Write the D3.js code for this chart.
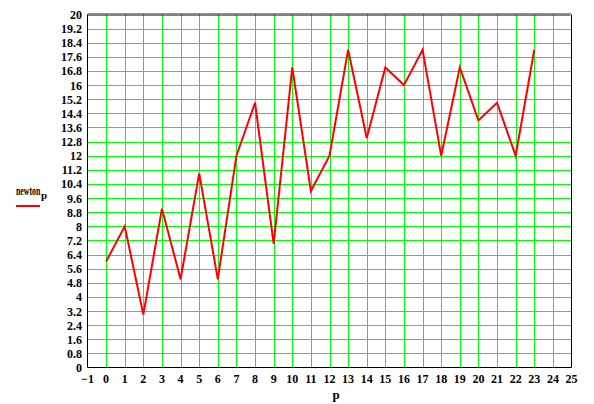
<!DOCTYPE html>
<html><head><meta charset="utf-8">
<script src="https://cdn.jsdelivr.net/npm/d3@7"></script>
<style>
html,body{margin:0;padding:0;background:#fff;}
svg{display:block;}
text{font-family:"Liberation Serif","Times New Roman",serif;font-weight:bold;fill:#000;}
</style></head>
<body>
<script>
const pValues = [0,1,2,3,4,5,6,7,8,9,10,11,12,13,14,15,16,17,18,19,20,21,22,23];
const newton = [6,8,3,9,5,11,5,12,15,7,17,10,12,18,13,17,16,18,12,17,14,15,12,18];
const xTicks = [-1,0,1,2,3,4,5,6,7,8,9,10,11,12,13,14,15,16,17,18,19,20,21,22,23,24,25];
const yTicks = [0,0.8,1.6,2.4,3.2,4,4.8,5.6,6.4,7.2,8,8.8,9.6,10.4,11.2,12,12.8,13.6,14.4,15.2,16,16.8,17.6,18.4,19.2,20];
const seriesName = "newton";
const seriesSub = "p";
const xLabel = "p";

const W = 594, H = 404;
const L = 87.5, R = 571.5, T = 14.5, B = 367.5;
const svg = d3.select("body").append("svg").attr("width", W).attr("height", H);

const x = d3.scaleLinear().domain([-1, 25]).range([L, R]);
const y = d3.scaleLinear().domain([0, 20]).range([B, T]);

// grid
const g = svg.append("g");
g.selectAll("line.v").data(xTicks.slice(1, -1)).join("line")
  .attr("x1", d => Math.round(x(d)) + 0.5).attr("x2", d => Math.round(x(d)) + 0.5)
  .attr("y1", T).attr("y2", B)
  .attr("stroke", "#00ff00").attr("stroke-width", 1);
g.selectAll("line.h").data(yTicks.slice(1)).join("line")
  .attr("x1", L).attr("x2", R)
  .attr("y1", d => d === 20 ? T - 1 : Math.round(y(d)) + 0.5)
  .attr("y2", d => d === 20 ? T - 1 : Math.round(y(d)) + 0.5)
  .attr("stroke", "#00ff00").attr("stroke-width", 1);

// frame
svg.append("path")
  .attr("d", `M${L},${T}V${B}H${R}V${T}`)
  .attr("fill", "none").attr("stroke", "#000").attr("stroke-width", 1);
svg.append("line").attr("x1", L).attr("x2", R - 1).attr("y1", T + 0.5).attr("y2", T + 0.5)
  .attr("stroke", "#000").attr("stroke-width", 1);

// y tick labels
svg.selectAll("text.yt").data(yTicks).join("text")
  .attr("x", 82).attr("y", d => y(d) + 4.5)
  .attr("text-anchor", "end").attr("font-size", 12)
  .text(d => String(d));

// x tick labels
svg.selectAll("text.xt").data(xTicks).join("text")
  .attr("x", d => x(d)).attr("y", 382.5)
  .attr("text-anchor", "middle").attr("font-size", 12)
  .text(d => d < 0 ? "\u2212" + (-d) : String(d));

// x label
svg.append("text").attr("x", 336).attr("y", 399)
  .attr("text-anchor", "middle").attr("font-size", 13).text(xLabel);

// legend
svg.append("text").attr("transform", "translate(16,195) scale(0.65,1)")
  .attr("font-size", 12).text(seriesName);
svg.append("text").attr("x", 41).attr("y", 199).attr("font-size", 11).text(seriesSub);
svg.append("line").attr("x1", 16).attr("x2", 40).attr("y1", 206).attr("y2", 206)
  .attr("stroke", "#ff0000").attr("stroke-width", 2);

// series
const line = d3.line().x((d, i) => x(pValues[i])).y(d => y(d));
svg.append("path").datum(newton).attr("d", line)
  .attr("fill", "none").attr("stroke", "#ff0000").attr("stroke-width", 2)
  .attr("stroke-linejoin", "miter");
</script>
</body></html>
